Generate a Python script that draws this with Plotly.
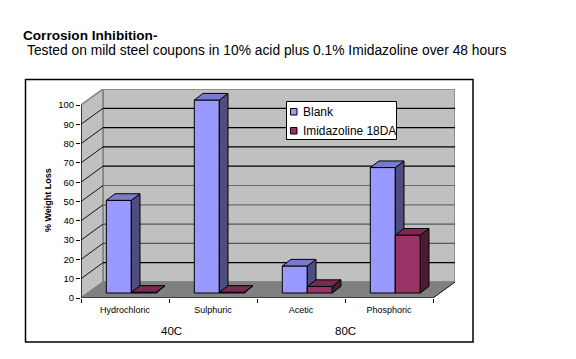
import plotly.graph_objects as go

categories = ["Hydrochloric", "Sulphuric", "Acetic", "Phosphoric"]
blank = [48, 100, 14, 65]
imidazoline = [0.4, 0.4, 3.4, 30]
y_ticks = list(range(0, 101, 10))
groups = ["40C", "80C"]
series_names = ["Blank", "Imidazoline 18DA"]

# pixel geometry of the frame
W, H = 576, 359
PL, PR, PT, PB = 81, 455, 89, 298
PX_PER_CAT = 88.0
PX_PER_UNIT = 1.93
XMAX = (PR - PL) / PX_PER_CAT
YMAX = (PB - PT) / PX_PER_UNIT
WALL_DX = 22 / PX_PER_CAT
WALL_DY = 16 / PX_PER_UNIT
BAR_DX = 8.7 / PX_PER_CAT
BAR_DY = 6.6 / PX_PER_UNIT
LIFT = 5 / PX_PER_UNIT
BAR_W = 25 / PX_PER_CAT
GROUP_LEFT = 0.2875

C_WALL, C_FLOOR, C_EDGE = "#C0C0C0", "#808080", "#808080"
BLUE = dict(front="#9999FF", side="#4D4D80", top="#7A7ACC")
RED = dict(front="#993366", side="#4D1A33", top="#7A2952")
GRID_COL = {10: "#000000", 20: "#555555", 30: "#555555", 40: "#6a6a6a", 50: "#6a6a6a",
            60: "#000000", 70: "#000000", 80: "#000000", 90: "#000000"}
FONT = "Liberation Sans, Arial, sans-serif"

fig = go.Figure()


def poly(xs, ys, fill, line="#000000", width=1, xa="x", ya="y"):
    fig.add_trace(go.Scatter(x=xs, y=ys, mode="lines", fill="toself", fillcolor=fill,
                             line=dict(color=line, width=width), xaxis=xa, yaxis=ya,
                             showlegend=False, hoverinfo="skip", cliponaxis=False))


def seg(xs, ys, color, width=1):
    fig.add_trace(go.Scatter(x=xs, y=ys, mode="lines", line=dict(color=color, width=width),
                             showlegend=False, hoverinfo="skip", cliponaxis=False))


# walls
poly([WALL_DX, XMAX, XMAX, WALL_DX, WALL_DX], [WALL_DY, WALL_DY, YMAX, YMAX, WALL_DY], C_WALL, C_EDGE, 1.5)
poly([0, WALL_DX, WALL_DX, 0, 0], [0, WALL_DY, YMAX, 100, 0], C_WALL, C_EDGE, 1.5)
poly([0, WALL_DX, XMAX, 4, 0], [0, WALL_DY, WALL_DY, 0, 0], C_FLOOR, C_EDGE, 1)
for v, c in GRID_COL.items():
    seg([0, WALL_DX], [v, v + WALL_DY], "#111111", 1)
    seg([WALL_DX, XMAX], [v + WALL_DY, v + WALL_DY], c, 1.2)
seg([4, XMAX], [0, WALL_DY], "#222222", 1)
seg([0, 0], [0, 100], "#000000", 1.2)
seg([0, 4], [0, 0], "#000000", 1.2)


def bars(vals, left, col, name, xa, ya):
    xc = [i + left + BAR_W / 2 for i in range(len(vals))]
    fig.add_trace(go.Bar(x=xc, y=vals, base=[LIFT] * len(vals), width=BAR_W, name=name,
                         marker=dict(color=col["front"], line=dict(color="#000000", width=1)),
                         xaxis=xa, yaxis=ya, showlegend=False, hoverinfo="skip"))
    for c, v in zip(xc, vals):
        l, r, t = c - BAR_W / 2, c + BAR_W / 2, v + LIFT
        poly([r, r + BAR_DX, r + BAR_DX, r, r],
             [LIFT, LIFT + BAR_DY, t + BAR_DY, t, LIFT], col["side"], xa=xa, ya=ya)
        poly([l, r, r + BAR_DX, l + BAR_DX, l],
             [t, t, t + BAR_DY, t + BAR_DY, t], col["top"], xa=xa, ya=ya)


bars(blank, GROUP_LEFT, BLUE, series_names[0], "x2", "y2")
bars(imidazoline, GROUP_LEFT + BAR_W, RED, series_names[1], "x3", "y3")


def px(x):
    return (x - PL) / (PR - PL)


def py(y):
    return (PB - y) / (PB - PT)


shapes = [
    dict(type="rect", xref="paper", yref="paper", x0=px(25.5), x1=px(473), y0=py(79.5), y1=py(342),
         line=dict(color="#000000", width=1.5)),
    dict(type="rect", xref="paper", yref="paper", x0=px(286.5), x1=px(396.5), y0=py(101.5), y1=py(139.5),
         fillcolor="#FFFFFF", line=dict(color="#000000", width=1)),
    dict(type="rect", xref="paper", yref="paper", x0=px(290.5), x1=px(297), y0=py(108.5), y1=py(115),
         fillcolor=BLUE["front"], line=dict(color="#000000", width=1)),
    dict(type="rect", xref="paper", yref="paper", x0=px(290.5), x1=px(297), y0=py(127.5), y1=py(134),
         fillcolor=RED["front"], line=dict(color="#000000", width=1)),
]


def text(x, y, s, size, bold=False, anchor="left", angle=0):
    return dict(xref="paper", yref="paper", x=px(x), y=py(y), text=f"<b>{s}</b>" if bold else s,
                showarrow=False, xanchor=anchor, yanchor="middle", textangle=angle,
                font=dict(family=FONT, size=size, color="#000000"))


annotations = [
    text(21, 36, "Corrosion Inhibition-", 13.6, bold=True),
    text(24.5, 51, "Tested on mild steel coupons in 10% acid plus 0.1% Imidazoline over 48 hours", 13.8),
    text(48, 200, "% Weight Loss", 9, bold=True, anchor="center", angle=-90),
    text(301, 112, series_names[0], 12),
    text(301, 131, series_names[1], 11.9),
    text(171, 331, groups[0], 11.5, anchor="center"),
    text(345, 331, groups[1], 11.5, anchor="center"),
]

hidden = dict(overlaying="x", matches="x", visible=False)
hiddeny = dict(overlaying="y", matches="y", visible=False)
fig.update_layout(
    width=W, height=H, autosize=False,
    margin=dict(l=PL, r=W - PR, t=PT, b=H - PB, pad=0),
    paper_bgcolor="#FFFFFF", plot_bgcolor="rgba(0,0,0,0)",
    showlegend=False, barmode="overlay",
    font=dict(family=FONT, color="#000000"),
    xaxis=dict(range=[0, XMAX], tickmode="array", tickvals=[i + 0.5 for i in range(4)],
               ticktext=categories, ticks="", showgrid=False, zeroline=False, showline=False,
               tickfont=dict(size=9, family=FONT), ticklabelstandoff=5,
               minor=dict(tickmode="array", tickvals=[0, 1, 2, 3, 4], ticks="outside", ticklen=4,
                          tickcolor="#000000", tickwidth=1, showgrid=False)),
    yaxis=dict(range=[0, YMAX], tickmode="array", tickvals=y_ticks, ticks="outside", ticklen=4,
               tickcolor="#000000", tickwidth=1, showgrid=False, zeroline=False, showline=False,
               tickfont=dict(size=9.5, family=FONT)),
    xaxis2=dict(range=[0, XMAX], **hidden), yaxis2=dict(range=[0, YMAX], **hiddeny),
    xaxis3=dict(range=[0, XMAX], **hidden), yaxis3=dict(range=[0, YMAX], **hiddeny),
    shapes=shapes, annotations=annotations,
)

fig.write_html("out.html", config=dict(displayModeBar=False),
               post_script="document.body.style.margin='0';document.documentElement.style.overflow='hidden';")
